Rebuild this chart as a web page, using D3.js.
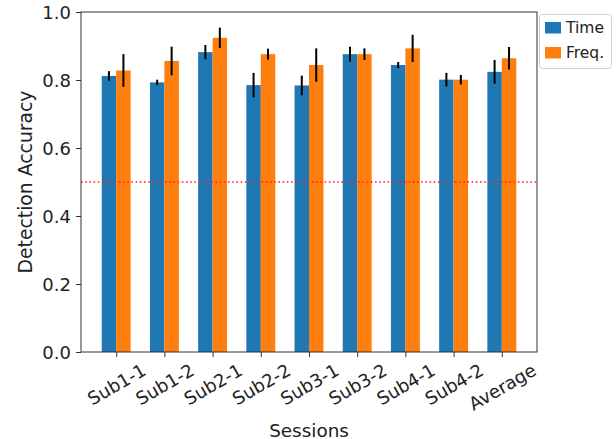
<!DOCTYPE html>
<html><head><meta charset="utf-8">
<script src="https://cdn.jsdelivr.net/npm/d3@7/dist/d3.min.js"></script>
<style>body{margin:0;background:#fff}svg{display:block}text{font-family:"DejaVu Sans",sans-serif;fill:#222}</style>
</head><body>
<svg id="c" width="616" height="439"></svg>
<script>
const categories = ["Sub1-1","Sub1-2","Sub2-1","Sub2-2","Sub3-1","Sub3-2","Sub4-1","Sub4-2","Average"];
const timeVals = [0.812,0.793,0.882,0.785,0.784,0.876,0.844,0.801,0.824];
const timeErr  = [0.014,0.008,0.021,0.036,0.029,0.022,0.009,0.020,0.035];
const freqVals = [0.828,0.856,0.924,0.876,0.844,0.876,0.893,0.801,0.864];
const freqErr  = [0.048,0.042,0.030,0.016,0.049,0.017,0.040,0.014,0.033];
const yTicks = [0.0,0.2,0.4,0.6,0.8,1.0];
const chance = 0.5;
const seriesNames = ["Time","Freq."];
const colors = ["#1f77b4","#ff7f0e"];

const FS = 18;
const svg = d3.select("#c");
const L=81,R=537,T=12,B=352;
const barW=0.3;
const x = d3.scaleLinear().domain([-0.73,8.73]).range([L,R]);
const y = d3.scaleLinear().domain([0,1]).range([B,T]);
const series=[{v:timeVals,e:timeErr,off:-barW/2},{v:freqVals,e:freqErr,off:barW/2}];

series.forEach((s,si)=>{
  const g=svg.append("g");
  g.selectAll("rect").data(s.v).join("rect")
    .attr("x",(d,i)=>x(i+s.off-barW/2)).attr("width",x(barW)-x(0))
    .attr("y",d=>y(d)).attr("height",d=>y(0)-y(d))
    .attr("fill",colors[si]);
  g.selectAll("line").data(s.v).join("line")
    .attr("x1",(d,i)=>x(i+s.off)).attr("x2",(d,i)=>x(i+s.off))
    .attr("y1",(d,i)=>y(d+s.e[i])).attr("y2",(d,i)=>y(d-s.e[i]))
    .attr("stroke","#000").attr("stroke-width",2);
});

svg.append("line").attr("x1",L).attr("x2",R).attr("y1",y(chance)).attr("y2",y(chance))
  .attr("stroke","#ff2020").attr("stroke-width",1.6).attr("stroke-dasharray","1.6,2.6");

// spines
svg.append("rect").attr("x",L).attr("y",T).attr("width",R-L).attr("height",B-T)
  .attr("fill","none").attr("stroke","#333").attr("stroke-width",1);

// y axis
const yAx=svg.append("g").attr("transform",`translate(${L},0)`)
  .call(d3.axisLeft(y).tickValues(yTicks).tickFormat(d3.format(".1f")).tickSize(5).tickPadding(5));
yAx.select(".domain").remove();
yAx.selectAll("line").attr("stroke","#333");
yAx.selectAll("text").style("font-size",FS+"px").attr("fill","#222").attr("dy","0.36em");

// x axis
const xAx=svg.append("g").attr("transform",`translate(0,${B})`)
  .call(d3.axisBottom(x).tickValues(d3.range(categories.length)).tickFormat(i=>categories[i]).tickSize(5));
xAx.select(".domain").remove();
xAx.selectAll("line").attr("stroke","#333");
xAx.selectAll("text").each(function(){
  const t=d3.select(this);
  t.attr("y",0).attr("dy",null).style("font-size",FS+"px").attr("fill","#222")
   .attr("text-anchor","middle").attr("dominant-baseline","central");
  const w=this.getComputedTextLength(), h=FS*1.0;
  const a=Math.PI/6;
  const bh=w*Math.sin(a)+h*Math.cos(a);
  const cy=5+3.5+bh/2;
  t.attr("transform",`translate(0,${cy}) rotate(-30)`);
});

svg.append("text").attr("x",(L+R)/2).attr("y",430).attr("text-anchor","middle")
  .attr("dominant-baseline","central").style("font-size","18.4px").text("Sessions");
svg.append("text").attr("transform",`translate(25,${(T+B)/2}) rotate(-90)`).attr("text-anchor","middle")
  .attr("dominant-baseline","central").style("font-size","18.8px").text("Detection Accuracy");

// legend
const lg=svg.append("g");
lg.append("rect").attr("x",539.5).attr("y",14.5).attr("width",72).attr("height",54).attr("rx",3)
  .attr("fill","#fff").attr("stroke","#d0d0d0");
seriesNames.forEach((n,i)=>{
  lg.append("rect").attr("x",545).attr("y",22+i*25).attr("width",16).attr("height",11.5).attr("fill",colors[i]);
  lg.append("text").attr("x",566).attr("y",28+i*25).attr("dominant-baseline","central")
    .style("font-size","15.5px").text(n);
});
</script>
</body></html>
